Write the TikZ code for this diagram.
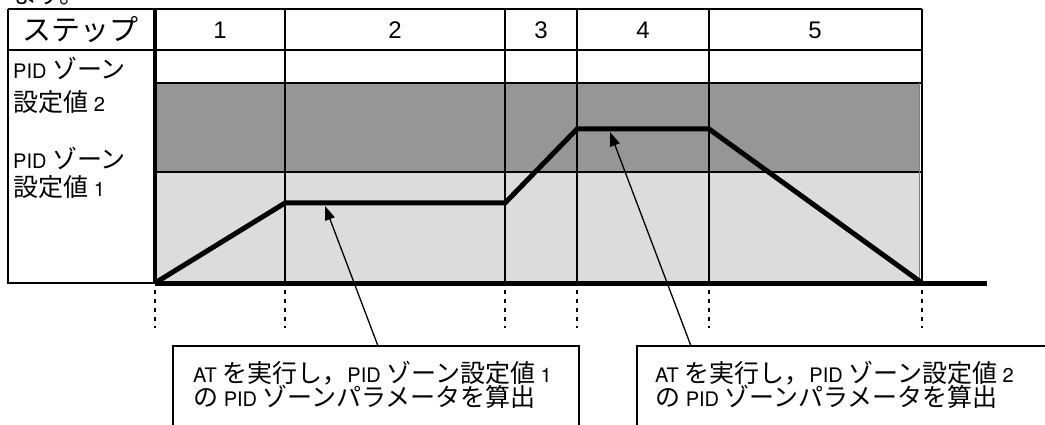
\documentclass[tikz,border=0pt]{standalone}
\usepackage{fontspec}
\setmainfont{Liberation Sans}
\newfontfamily\jpf{Noto Sans CJK JP}
\newfontfamily\latf{TeX Gyre Heros}
\newfontfamily\headlat{Liberation Sans}
\usetikzlibrary{arrows.meta}
\newcommand\J[1]{{\fontsize{25pt}{25pt}\selectfont\jpf #1}}
\newcommand\JH[1]{{\fontsize{29pt}{29pt}\selectfont\jpf #1}}
\newcommand\bodyfnt{\latf\fontsize{20pt}{20pt}\selectfont}
\newcommand\headfnt{\headlat\fontsize{24pt}{24pt}\selectfont}
\definecolor{zonedark}{HTML}{969696}
\definecolor{zonelight}{HTML}{DCDCDC}
\tikzset{
  gridline/.style={line width=2pt, draw=black},
  boldline/.style={line width=4pt, draw=black},
  groundline/.style={line width=5pt, draw=black},
  profile/.style={line width=5pt, draw=black, line join=miter},
  dotline/.style={line width=2.5pt, draw=black, dash pattern=on 4pt off 5pt},
  callout/.style={line width=1.3pt, draw=black, -{Triangle[length=14pt,width=10pt]}},
  boxline/.style={line width=1.5pt, draw=black, fill=white},
  txt/.style={inner sep=0pt},
}
\begin{document}
\begin{tikzpicture}[x=1pt,y=-1pt]
\useasboundingbox (0,0) rectangle (1045,425);
% fragment of preceding sentence, cut off at the top
\node[txt, anchor=base west] (frag) at (12,4) {\J{ます。}};
% zone fills
\fill[zonelight] (155,172) rectangle (920,283);
\fill[zonedark] (155,83) rectangle (920,172);
% table grid
\draw[gridline] (8,9) -- (922,9);
\draw[gridline] (8,9) -- (8,283) -- (155,283);
\draw[gridline] (8,50) -- (922,50);
\draw[gridline] (155,83) -- (922,83);
\draw[gridline] (155,172) -- (922,172);
\foreach \cx in {285,505,577,709} \draw[gridline] (\cx,9) -- (\cx,283);
\draw[gridline] (922,9) -- (922,283);
\draw[line width=0.8pt, draw=gray] (919,83) -- (919,283);
\draw[boldline] (155,9) -- (155,283);
% header texts
\node[txt] (hstep) at (81,30) {\JH{ステップ}};
\node[txt] (h1) at (220,30) {\headfnt 1};
\node[txt] (h2) at (395,30) {\headfnt 2};
\node[txt] (h3) at (541,30) {\headfnt 3};
\node[txt] (h4) at (643,30) {\headfnt 4};
\node[txt] (h5) at (815,30) {\headfnt 5};
% left labels
\node[txt, anchor=west] (l2a) at (13,68) {\bodyfnt PID \J{ゾーン}};
\node[txt, anchor=west] (l2b) at (13,102) {\bodyfnt\J{設定値} 2};
\node[txt, anchor=west] (l1a) at (13,158) {\bodyfnt PID \J{ゾーン}};
\node[txt, anchor=west] (l1b) at (13,187) {\bodyfnt\J{設定値} 1};
% ground
\draw[groundline] (155,283) -- (987,283);
% profile
\coordinate (p0) at (155,283);
\coordinate (p1) at (285,203);
\coordinate (p2) at (505,203);
\coordinate (p3) at (577,129);
\coordinate (p4) at (709,129);
\coordinate (p5) at (922,283);
\draw[profile] (p0) -- (p1) -- (p2) -- (p3) -- (p4) -- (p5);
% dotted step markers
\foreach \cx in {155,285,505,577,709,922} \draw[dotline] (\cx,290) -- (\cx,328);
% callout boxes
\draw[boxline] (173,346) rectangle (579,440);
\draw[boxline] (637,346) rectangle (1060,440);
\node[txt, anchor=west] (t1a) at (193,373) {\bodyfnt AT \J{を実行し，}PID \J{ゾーン設定値} 1};
\node[txt, anchor=west] (t1b) at (193,397) {\bodyfnt\J{の} PID \J{ゾーンパラメータを算出}};
\node[txt, anchor=west] (t2a) at (655,373) {\bodyfnt AT \J{を実行し，}PID \J{ゾーン設定値} 2};
\node[txt, anchor=west] (t2b) at (655,397) {\bodyfnt\J{の} PID \J{ゾーンパラメータを算出}};
% arrows
\coordinate (a1s) at (378,346);
\coordinate (a1e) at (325,206);
\coordinate (a2s) at (691,346);
\coordinate (a2e) at (610,132);
\draw[callout] (a1s) -- (a1e);
\draw[callout] (a2s) -- (a2e);
\end{tikzpicture}
\end{document}
